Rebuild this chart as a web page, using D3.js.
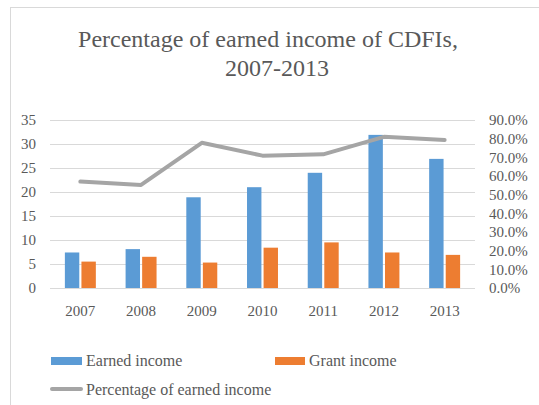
<!DOCTYPE html>
<html>
<head>
<meta charset="utf-8">
<script src="https://cdn.jsdelivr.net/npm/d3@7"></script>
<style>
  html, body { margin: 0; padding: 0; background: #fff; }
  svg { display: block; }
  text { font-family: "Liberation Serif", "Times New Roman", serif; fill: #595959; }
</style>
</head>
<body>
<script>
const years = ["2007", "2008", "2009", "2010", "2011", "2012", "2013"];
const earnedIncome = [7.4, 8.1, 18.9, 21.0, 24.0, 31.9, 26.9];
const grantIncome = [5.5, 6.5, 5.3, 8.4, 9.5, 7.4, 6.9];
const pctEarned = [0.57, 0.552, 0.778, 0.709, 0.716, 0.81, 0.793];
const leftTicks = [0, 5, 10, 15, 20, 25, 30, 35];
const rightTicks = [0, 0.1, 0.2, 0.3, 0.4, 0.5, 0.6, 0.7, 0.8, 0.9];
const seriesNames = ["Earned income", "Grant income", "Percentage of earned income"];
const colors = { earned: "#5b9bd5", grant: "#ed7d31", pct: "#a5a5a5" };

const W = 539, H = 405;
const plot = { left: 50, right: 475, top: 120, bottom: 288 };

const svg = d3.select("body").append("svg").attr("width", W).attr("height", H);

// chart border
svg.append("rect").attr("x", 10.5).attr("y", 7.5).attr("width", 560).attr("height", 420)
  .attr("fill", "#fff").attr("stroke", "#d9d9d9").attr("stroke-width", 1);

// title
const title = svg.append("text").attr("text-anchor", "middle").attr("font-size", 24);
title.append("tspan").attr("x", 268).attr("y", 47).text("Percentage of earned income of CDFIs,");
title.append("tspan").attr("x", 277).attr("y", 76).text("2007-2013");

const x = d3.scaleBand().domain(years).range([plot.left, plot.right])
  .paddingInner(0.49).paddingOuter(0.245);
const xs = d3.scaleBand().domain(["earned", "grant"]).range([0, x.bandwidth()])
  .paddingInner(0.13).paddingOuter(0);
const yL = d3.scaleLinear().domain([0, 35]).range([plot.bottom, plot.top]);
const yR = d3.scaleLinear().domain([0, 0.9]).range([plot.bottom, plot.top]);

// gridlines
svg.append("g").selectAll("line").data(leftTicks).join("line")
  .attr("x1", plot.left).attr("x2", plot.right)
  .attr("y1", d => Math.round(yL(d)) + 0.5).attr("y2", d => Math.round(yL(d)) + 0.5)
  .attr("stroke", "#d9d9d9").attr("stroke-width", 1);

// left axis
const gL = svg.append("g").attr("transform", `translate(${plot.left - 14},0)`)
  .call(d3.axisLeft(yL).tickValues(leftTicks).tickSize(0).tickPadding(0).tickFormat(d3.format("d")));
gL.select(".domain").remove();
gL.selectAll("text").attr("font-size", 15).attr("font-family", "Liberation Serif").attr("fill", "#595959");

// right axis
const gR = svg.append("g").attr("transform", `translate(${plot.right + 14},0)`)
  .call(d3.axisRight(yR).tickValues(rightTicks).tickSize(0).tickPadding(0).tickFormat(d3.format(".1%")));
gR.select(".domain").remove();
gR.selectAll("text").attr("font-size", 15).attr("font-family", "Liberation Serif").attr("fill", "#595959");

// bottom axis
const gB = svg.append("g").attr("transform", `translate(0,${plot.bottom})`)
  .call(d3.axisBottom(x).tickSize(0).tickPadding(17));
gB.select(".domain").remove();
gB.selectAll("text").attr("font-size", 15).attr("font-family", "Liberation Serif").attr("fill", "#595959");

// bars
const rows = years.map((yr, i) => ({ yr, earned: earnedIncome[i], grant: grantIncome[i], pct: pctEarned[i] }));
const groups = svg.append("g").selectAll("g").data(rows).join("g")
  .attr("transform", d => `translate(${x(d.yr)},0)`);
["earned", "grant"].forEach(k => {
  groups.append("rect")
    .attr("x", xs(k)).attr("width", xs.bandwidth())
    .attr("y", d => yL(d[k])).attr("height", d => yL(0) - yL(d[k]))
    .attr("fill", colors[k]);
});

// line
const line = d3.line().x(d => x(d.yr) + x.bandwidth() / 2).y(d => yR(d.pct));
svg.append("path").datum(rows).attr("d", line)
  .attr("fill", "none").attr("stroke", colors.pct).attr("stroke-width", 4)
  .attr("stroke-linecap", "round").attr("stroke-linejoin", "round");

// legend
const lg = svg.append("g");
lg.append("rect").attr("x", 51).attr("y", 357).attr("width", 31).attr("height", 8).attr("fill", colors.earned);
lg.append("text").attr("x", 86).attr("y", 366).attr("font-size", 16).text(seriesNames[0]);
lg.append("rect").attr("x", 275).attr("y", 357).attr("width", 30).attr("height", 8).attr("fill", colors.grant);
lg.append("text").attr("x", 309).attr("y", 366).attr("font-size", 16).text(seriesNames[1]);
lg.append("line").attr("x1", 52).attr("x2", 81).attr("y1", 389).attr("y2", 389)
  .attr("stroke", colors.pct).attr("stroke-width", 4).attr("stroke-linecap", "round");
lg.append("text").attr("x", 86).attr("y", 395).attr("font-size", 16).text(seriesNames[2]);
</script>
</body>
</html>
